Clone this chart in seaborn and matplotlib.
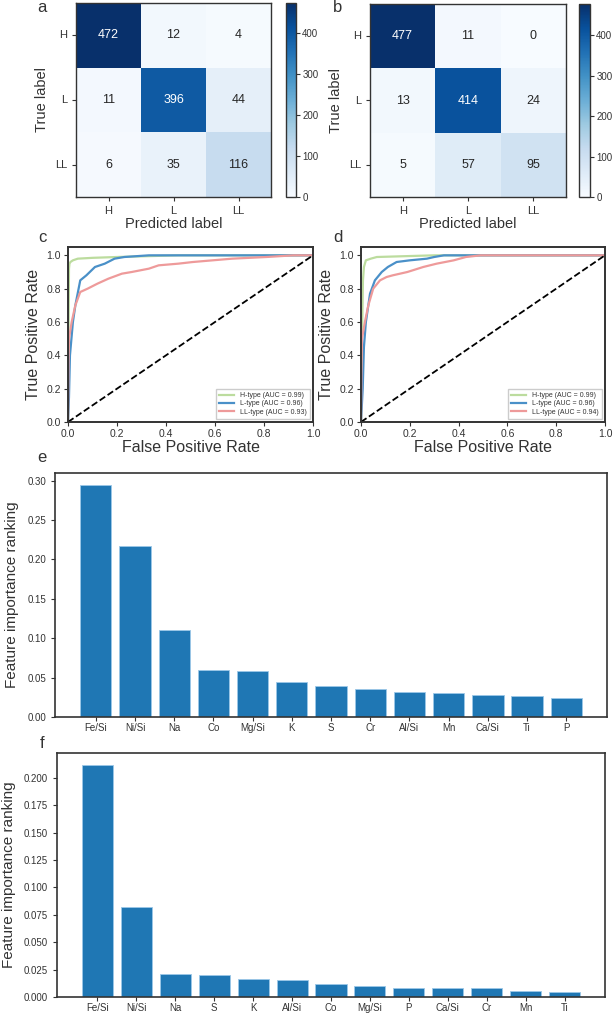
import matplotlib
matplotlib.use("Agg")
import matplotlib.pyplot as plt
import seaborn as sns
import pandas as pd

# confusion matrices (rows = true label, cols = predicted label)
classes = ["H", "L", "LL"]
cm_a = [[472, 12, 4], [11, 396, 44], [6, 35, 116]]
cm_b = [[477, 11, 0], [13, 414, 24], [5, 57, 95]]

# ROC curves, panel c
c_h_fpr = [0, 0.002, 0.004, 0.006, 0.01, 0.02, 0.04, 0.1, 0.2, 0.45, 1.0]
c_h_tpr = [0, 0.50, 0.92, 0.95, 0.96, 0.97, 0.98, 0.985, 0.99, 1.0, 1.0]
c_l_fpr = [0, 0.004, 0.008, 0.02, 0.03, 0.05, 0.075, 0.11, 0.15, 0.19, 0.23, 0.33, 1.0]
c_l_tpr = [0, 0.15, 0.40, 0.60, 0.70, 0.85, 0.88, 0.93, 0.95, 0.98, 0.99, 1.0, 1.0]
c_ll_fpr = [0, 0.002, 0.004, 0.015, 0.03, 0.05, 0.08, 0.12, 0.165, 0.22, 0.26, 0.33,
            0.37, 0.45, 0.51, 0.59, 0.67, 0.81, 0.92, 1.0]
c_ll_tpr = [0, 0.35, 0.50, 0.60, 0.70, 0.78, 0.80, 0.83, 0.86, 0.89, 0.90, 0.92,
            0.94, 0.95, 0.96, 0.97, 0.98, 0.99, 1.0, 1.0]

# panel d
d_h_fpr = [0, 0.004, 0.008, 0.012, 0.02, 0.04, 0.065, 0.3, 1.0]
d_h_tpr = [0, 0.50, 0.85, 0.93, 0.97, 0.98, 0.99, 1.0, 1.0]
d_l_fpr = [0, 0.007, 0.012, 0.02, 0.03, 0.037, 0.057, 0.085, 0.11, 0.146, 0.2, 0.27, 0.3, 0.34, 1.0]
d_l_tpr = [0, 0.20, 0.45, 0.60, 0.70, 0.77, 0.85, 0.90, 0.93, 0.96, 0.97, 0.98, 0.99, 1.0, 1.0]
d_ll_fpr = [0, 0.002, 0.004, 0.016, 0.03, 0.05, 0.078, 0.105, 0.13, 0.19, 0.255, 0.31,
            0.38, 0.43, 0.49, 1.0]
d_ll_tpr = [0, 0.35, 0.50, 0.60, 0.70, 0.80, 0.85, 0.87, 0.88, 0.90, 0.93, 0.95,
            0.97, 0.99, 1.0, 1.0]

auc_c = [0.99, 0.96, 0.93]
auc_d = [0.99, 0.96, 0.94]
roc_names = ["H-type", "L-type", "LL-type"]

# feature importances
feat_e = ["Fe/Si", "Ni/Si", "Na", "Co", "Mg/Si", "K", "S", "Cr", "Al/Si", "Mn", "Ca/Si", "Ti", "P"]
imp_e = [0.295, 0.217, 0.110, 0.060, 0.059, 0.044, 0.039, 0.035, 0.032, 0.030, 0.028, 0.027, 0.024]
feat_f = ["Fe/Si", "Ni/Si", "Na", "S", "K", "Al/Si", "Co", "Mg/Si", "P", "Ca/Si", "Cr", "Mn", "Ti"]
imp_f = [0.212, 0.082, 0.021, 0.020, 0.016, 0.0155, 0.0115, 0.010, 0.0085, 0.0078, 0.0078, 0.0055, 0.005]

plt.rcParams["font.family"] = ["Liberation Sans", "DejaVu Sans"]
plt.rcParams["text.color"] = "#333333"
plt.rcParams["axes.labelcolor"] = "#333333"
plt.rcParams["xtick.color"] = "#333333"
plt.rcParams["ytick.color"] = "#333333"
plt.rcParams["axes.edgecolor"] = "#333333"

W, H = 614, 1013
fig = plt.figure(figsize=(W / 100, H / 100), dpi=100)


def rect(x0, y0, x1, y1):
    return [x0 / W, 1 - y1 / H, (x1 - x0) / W, (y1 - y0) / H]


# confusion matrices
for cm, axr, cbr, lab, lx in [(cm_a, (76, 3, 271, 197), (286, 3, 296, 197), "a", 42),
                               (cm_b, (370, 4, 566, 197), (579, 4, 590, 197), "b", 338)]:
    ax = fig.add_axes(rect(*axr))
    cax = fig.add_axes(rect(*cbr))
    sns.heatmap(pd.DataFrame(cm, index=classes, columns=classes), annot=True, fmt="d",
                cmap="Blues", vmin=0, vmax=max(max(r) for r in cm), ax=ax, cbar_ax=cax,
                annot_kws={"fontsize": 9})
    for s in ax.spines.values():
        s.set_visible(True)
        s.set_linewidth(1.0)
    cbar = ax.collections[0].colorbar
    cbar.set_ticks([0, 100, 200, 300, 400])
    cbar.outline.set_visible(True)
    cbar.outline.set_linewidth(1.0)
    cbar.outline.set_edgecolor("#333333")
    cax.tick_params(labelsize=7, length=3, pad=1.5)
    ax.tick_params(labelsize=8, length=3)
    ax.set_yticklabels(classes, rotation=0)
    ax.set_xlabel("Predicted label", fontsize=10.5, labelpad=1)
    ax.set_ylabel("True label", fontsize=10.5)
    fig.text(lx / W, 1 - 8 / H, lab, fontsize=12, ha="center", va="center")

# ROC curves
roc_colors = ["#bcdc9e", "#4a90c8", "#ee9a9a"]
for curves, aucs, axr, lab, lx in [
        ([(c_h_fpr, c_h_tpr), (c_l_fpr, c_l_tpr), (c_ll_fpr, c_ll_tpr)], auc_c, (68, 247, 313, 422), "c", 42),
        ([(d_h_fpr, d_h_tpr), (d_l_fpr, d_l_tpr), (d_ll_fpr, d_ll_tpr)], auc_d, (361, 247, 605, 422), "d", 338)]:
    ax = fig.add_axes(rect(*axr))
    for (fx, ty), name, auc, col in zip(curves, roc_names, aucs, roc_colors):
        sns.lineplot(x=fx, y=ty, ax=ax, color=col, lw=1.6, estimator=None, sort=False,
                     label=f"{name} (AUC = {auc:.2f})")
    sns.lineplot(x=[0, 1], y=[0, 1], ax=ax, color="black", lw=1.3, linestyle="--",
                 estimator=None, sort=False)
    ax.set_xlim(0, 1.0)
    ax.set_ylim(0, 1.05)
    ax.set_xticks([0, 0.2, 0.4, 0.6, 0.8, 1.0])
    ax.set_yticks([0, 0.2, 0.4, 0.6, 0.8, 1.0])
    ax.tick_params(labelsize=7.5, length=3, pad=2)
    for s in ax.spines.values():
        s.set_linewidth(1.4)
    ax.set_xlabel("False Positive Rate", fontsize=11.5, labelpad=1)
    ax.set_ylabel("True Positive Rate", fontsize=11.5)
    ax.legend(loc="lower right", fontsize=5, handlelength=2.2, borderpad=0.4,
              labelspacing=0.2, framealpha=1, edgecolor="#cccccc", fancybox=False)
    fig.text(lx / W, 1 - 238 / H, lab, fontsize=12, ha="center", va="center")

# feature importance bars
for feats, imps, axr, lab, ly in [(feat_e, imp_e, (55, 473, 607, 717), "e", 457),
                                  (feat_f, imp_f, (57, 753, 605, 997), "f", 743)]:
    ax = fig.add_axes(rect(*axr))
    sns.barplot(x=feats, y=imps, ax=ax, color="#1f77b4", saturation=1, width=0.8,
                edgecolor="#9cc8e8", linewidth=0.6)
    ax.set_xlim(-1.04, len(feats) - 1 + 1.04)
    ax.set_ylim(0, max(imps) * 1.05)
    ax.tick_params(labelsize=7, length=3)
    ax.tick_params(axis="x", pad=1.5)
    for s in ax.spines.values():
        s.set_linewidth(1.2)
    ax.set_ylabel("Feature importance ranking", fontsize=11, labelpad=6)
    fig.text(42 / W, 1 - ly / H, lab, fontsize=12, ha="center", va="center")

fig.savefig("out.png", dpi=100)
